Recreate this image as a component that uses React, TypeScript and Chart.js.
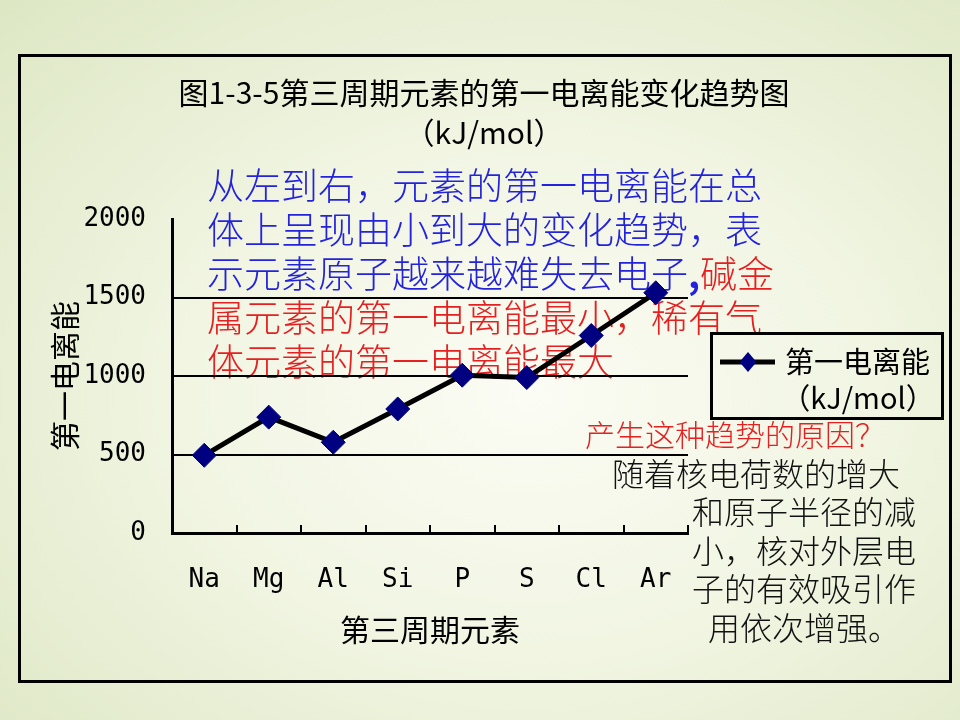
import React, { useEffect, useRef } from 'react';
import { Chart, registerables } from 'chart.js';

Chart.register(...registerables);

// ---- data ----
const elements = ['Na', 'Mg', 'Al', 'Si', 'P', 'S', 'Cl', 'Ar'];
const ionizationEnergy = [495, 738, 578, 790, 1005, 990, 1258, 1530];
const yTicks = [0, 500, 1000, 1500, 2000];
const titleLines = ['图1-3-5第三周期元素的第一电离能变化趋势图', '（kJ/mol）'];
const seriesName = ['第一电离能', '（kJ/mol）'];
const xTitle = '第三周期元素';
const yTitle = '第一电离能';

const CJK = '"Noto Sans CJK SC", "Noto Sans", sans-serif';
const MONO = '"DejaVu Sans Mono", "Liberation Mono", monospace';

const BG =
  'radial-gradient(ellipse 80% 80% at 55% 55%, #fbfcf4 0%, #f1f5e2 45%, #dce6c2 100%)';

const decorPlugin = {
  id: 'decor',
  afterDraw(chart: any) {
    const ctx = chart.ctx as CanvasRenderingContext2D;
    const ca = chart.chartArea;
    const ds = chart.data.datasets[0];
    ctx.save();
    // title
    ctx.fillStyle = '#000';
    ctx.textAlign = 'center';
    ctx.textBaseline = 'middle';
    ctx.font = `30px ${CJK}`;
    const cx = chart.width / 2 + 4;
    titleLines.forEach((t, i) => ctx.fillText(t, cx, 93 + i * 40));

    // legend box
    const w = 234;
    const h = 88;
    const x0 = ca.right + 22;
    const y0 = (ca.top + ca.bottom) / 2 - h / 2;
    ctx.strokeStyle = '#000';
    ctx.lineWidth = 3;
    ctx.strokeRect(x0 + 1.5, y0 + 1.5, w - 3, h - 3);
    const ly = y0 + 30;
    ctx.beginPath();
    ctx.moveTo(x0 + 10, ly);
    ctx.lineTo(x0 + 65, ly);
    ctx.lineWidth = ds.borderWidth;
    ctx.strokeStyle = ds.borderColor;
    ctx.stroke();
    const r = 10;
    const px = x0 + 38;
    ctx.beginPath();
    ctx.moveTo(px, ly - r);
    ctx.lineTo(px + r * 0.85, ly);
    ctx.lineTo(px, ly + r);
    ctx.lineTo(px - r * 0.85, ly);
    ctx.closePath();
    ctx.fillStyle = ds.pointBackgroundColor;
    ctx.fill();
    ctx.fillStyle = '#000';
    ctx.font = `29px ${CJK}`;
    ctx.textAlign = 'left';
    ctx.fillText(seriesName[0], x0 + 75, ly);
    ctx.textAlign = 'center';
    ctx.fillText(seriesName[1], x0 + 75 + 73, y0 + 66);
    ctx.restore();
  },
};

function ChartCanvas() {
  const ref = useRef<HTMLCanvasElement | null>(null);
  useEffect(() => {
    if (!ref.current) return;
    const yMin = yTicks[0];
    const yMax = yTicks[yTicks.length - 1];
    const chart = new Chart(ref.current, {
      type: 'line',
      data: {
        labels: elements,
        datasets: [
          {
            label: seriesName.join(''),
            data: ionizationEnergy,
            borderColor: '#000000',
            borderWidth: 5,
            pointStyle: 'rectRot',
            pointRadius: 12,
            pointBackgroundColor: '#000080',
            pointBorderColor: '#000080',
            pointBorderWidth: 1,
            tension: 0,
            fill: false,
          } as any,
        ],
      },
      options: {
        responsive: false,
        animation: false,
        devicePixelRatio: 1,
        layout: { padding: { left: 43, right: 272, top: 219, bottom: 68 } },
        plugins: {
          legend: { display: false },
          title: { display: false },
          tooltip: { enabled: false },
        },
        scales: {
          x: {
            type: 'category',
            offset: true,
            grid: {
              offset: true,
              drawOnChartArea: false,
              drawTicks: true,
              tickLength: -8,
              color: '#000',
              lineWidth: 2,
            },
            border: { display: true, color: '#000', width: 3 },
            ticks: {
              font: { family: MONO, size: 26 },
              color: '#000',
              padding: 40,
              maxRotation: 0,
              autoSkip: false,
            },
            title: {
              display: true,
              text: xTitle,
              font: { family: CJK, size: 30 },
              color: '#000',
              padding: { top: 4, bottom: 4 },
            },
            afterFit(s: any) {
              s.height = 119;
            },
          },
          y: {
            min: yMin,
            max: yMax,
            ticks: {
              stepSize: yTicks[1] - yTicks[0],
              font: { family: MONO, size: 26 },
              color: '#000',
              padding: 26,
              callback: (v: any) => String(v),
            },
            grid: {
              drawTicks: false,
              color: (c: any) =>
                c.tick && c.tick.value === yMax ? 'rgba(0,0,0,0)' : '#000',
              lineWidth: 2,
            },
            border: { display: true, color: '#000', width: 3 },
            title: {
              display: true,
              text: yTitle,
              font: { family: CJK, size: 30 },
              color: '#000',
              padding: { top: 4, bottom: 4 },
            },
            afterFit(s: any) {
              s.width = 129;
            },
          },
        } as any,
      },
      plugins: [decorPlugin],
    });
    return () => chart.destroy();
  }, []);
  return (
    <canvas
      ref={ref}
      width={960}
      height={720}
      style={{ position: 'absolute', left: 0, top: 0, width: 960, height: 720, zIndex: 2 }}
    />
  );
}

const BLUE = '#2323dc';
const RED = '#e42020';

const lineStyle: React.CSSProperties = { whiteSpace: 'nowrap', height: 44 };

export default function App() {
  return (
    <div
      style={{
        position: 'fixed',
        left: 0,
        top: 0,
        width: 960,
        height: 720,
        background: BG,
        overflow: 'hidden',
      }}
    >
      <div
        style={{
          position: 'absolute',
          left: 18,
          top: 54,
          width: 934,
          height: 629,
          border: '3px solid #000',
          boxSizing: 'border-box',
        }}
      />
      <div
        style={{
          position: 'absolute',
          left: 207,
          top: 162,
          fontFamily: CJK,
          fontSize: 37,
          fontWeight: 300,
          lineHeight: '44px',
          zIndex: 1,
        }}
      >
        <div style={{ ...lineStyle, color: BLUE }}>从左到右，元素的第一电离能在总</div>
        <div style={{ ...lineStyle, color: BLUE }}>体上呈现由小到大的变化趋势，表</div>
        <div style={lineStyle}>
          <span style={{ color: BLUE }}>示元素原子越来越难失去电子</span>
          <span style={{ color: BLUE, fontWeight: 700 }}>,</span>
          <span style={{ color: RED }}>碱金</span>
        </div>
        <div style={{ ...lineStyle, color: RED }}>属元素的第一电离能最小，稀有气</div>
        <div style={{ ...lineStyle, color: RED }}>体元素的第一电离能最大</div>
      </div>
      <div
        style={{
          position: 'absolute',
          left: 585,
          top: 415,
          fontFamily: CJK,
          fontSize: 30,
          fontWeight: 300,
          lineHeight: '36px',
          color: RED,
          whiteSpace: 'nowrap',
          zIndex: 1,
        }}
      >
        产生这种趋势的原因？
      </div>
      <div
        style={{
          position: 'absolute',
          left: 612,
          top: 453,
          fontFamily: CJK,
          fontSize: 32,
          fontWeight: 300,
          lineHeight: '38px',
          color: '#111',
          whiteSpace: 'nowrap',
          zIndex: 1,
        }}
      >
        随着核电荷数的增大
      </div>
      <div
        style={{
          position: 'absolute',
          left: 692,
          top: 491,
          width: 224,
          fontFamily: CJK,
          fontSize: 32,
          fontWeight: 300,
          lineHeight: '38.5px',
          color: '#111',
          textAlign: 'center',
          whiteSpace: 'nowrap',
          zIndex: 1,
        }}
      >
        <div>和原子半径的减</div>
        <div>小，核对外层电</div>
        <div>子的有效吸引作</div>
        <div>用依次增强。</div>
      </div>
      <ChartCanvas />
    </div>
  );
}
